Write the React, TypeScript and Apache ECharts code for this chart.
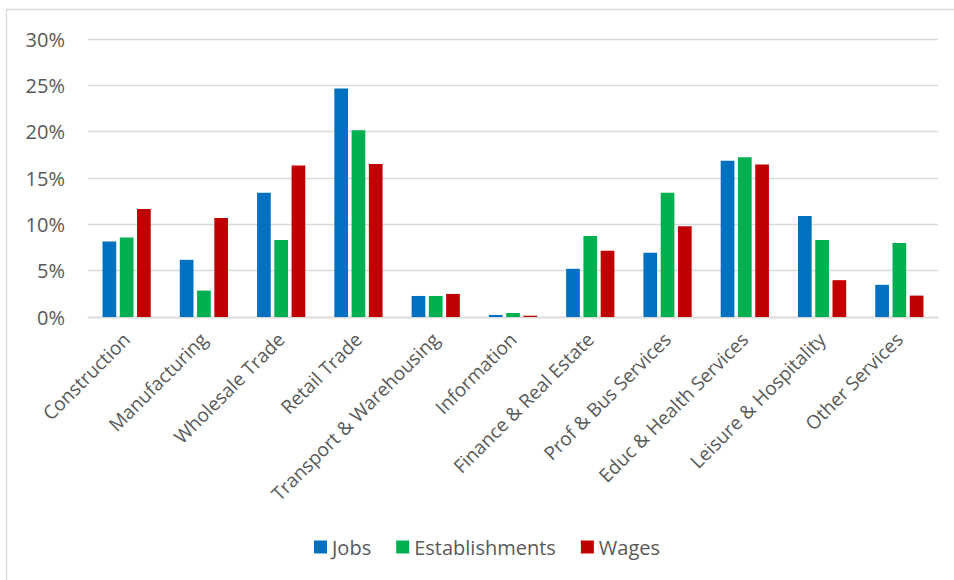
import React, { useEffect, useRef } from "react";
import * as echarts from "echarts";

const categories = [
  "Construction",
  "Manufacturing",
  "Wholesale Trade",
  "Retail Trade",
  "Transport & Warehousing",
  "Information",
  "Finance & Real Estate",
  "Prof & Bus Services",
  "Educ & Health Services",
  "Leisure & Hospitality",
  "Other Services",
];

const jobs = [8.15, 6.17, 13.4, 24.66, 2.27, 0.22, 5.2, 6.93, 16.86, 10.9, 3.47];
const establishments = [8.59, 2.85, 8.3, 20.14, 2.27, 0.43, 8.74, 13.4, 17.25, 8.3, 7.98];
const wages = [11.66, 10.69, 16.35, 16.5, 2.49, 0.14, 7.15, 9.78, 16.46, 3.97, 2.31];

const seriesNames = ["Jobs", "Establishments", "Wages"];
const seriesColors = ["#0070C0", "#00B050", "#C00000"];

const FONT = "'Open Sans', 'Noto Sans', sans-serif";
const TEXT = "#595959";

export default function App() {
  const ref = useRef<HTMLDivElement>(null);

  useEffect(() => {
    if (!ref.current) return;
    const chart = echarts.init(ref.current, undefined, { renderer: "svg" });
    const data = [jobs, establishments, wages];
    chart.setOption({
      animation: false,
      backgroundColor: "#ffffff",
      textStyle: { fontFamily: FONT },
      graphic: [
        {
          type: "rect",
          shape: { x: 6.5, y: 9.5, width: 1000, height: 1000 },
          style: { fill: "none", stroke: "#d9d9d9", lineWidth: 1.3 },
          silent: true,
          z: -1,
        },
      ],
      grid: { left: 88, right: 16, top: 39, bottom: 263, containLabel: false },
      legend: {
        data: seriesNames,
        left: 309,
        top: 532,
        itemWidth: 13,
        itemHeight: 13,
        itemGap: 25,
        icon: "rect",
        textStyle: { color: TEXT, fontSize: 20, fontFamily: FONT },
      },
      xAxis: {
        type: "category",
        data: categories,
        axisLine: { lineStyle: { color: "#d9d9d9", width: 1.3 } },
        axisTick: { show: false },
        axisLabel: {
          interval: 0,
          rotate: 45,
          margin: 19,
          color: TEXT,
          fontSize: 19,
          fontFamily: FONT,
        },
      },
      yAxis: {
        type: "value",
        min: 0,
        max: 30,
        interval: 5,
        axisLine: { show: false },
        axisTick: { show: false },
        splitLine: { lineStyle: { color: "#d9d9d9", width: 1.3 } },
        axisLabel: {
          formatter: "{value}%",
          margin: 23,
          color: TEXT,
          fontSize: 20,
          fontFamily: FONT,
        },
      },
      series: seriesNames.map((name, i) => ({
        name,
        type: "bar",
        data: data[i],
        barWidth: 13.7,
        barGap: "26%",
        itemStyle: { color: seriesColors[i] },
      })),
    });
    return () => chart.dispose();
  }, []);

  return (
    <div
      ref={ref}
      style={{ position: "fixed", left: 0, top: 0, width: 954, height: 580 }}
    />
  );
}
